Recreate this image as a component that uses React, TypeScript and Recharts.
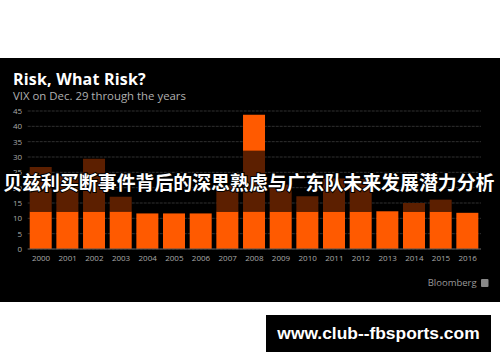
import { BarChart, Bar, XAxis, YAxis, CartesianGrid } from "recharts";

// VIX on Dec. 29, split into the three coloured pieces of each stacked bar
const years = [
  "2000", "2001", "2002", "2003", "2004", "2005", "2006", "2007", "2008",
  "2009", "2010", "2011", "2012", "2013", "2014", "2015", "2016",
];
const lowPart = [
  12.2, 12.2, 12.2, 12.2, 11.6, 11.6, 11.6, 12.2, 12.2,
  12.2, 12.2, 12.2, 12.2, 12.3, 12.2, 12.2, 11.8,
];
const midPart = [
  14.5, 11.6, 17.2, 4.8, 0, 0, 0, 8.5, 19.8,
  8.8, 5.0, 10.8, 10.5, 0, 2.8, 3.9, 0,
];
const topPart = [0, 0, 0, 0, 0, 0, 0, 0, 11.8, 0, 0, 0, 0, 0, 0, 0, 0];
const yTicks = [0, 5, 10, 15, 20, 25, 30, 35, 40, 45];

const data = years.map((year, i) => ({
  year,
  low: lowPart[i],
  mid: midPart[i],
  top: topPart[i],
}));

const ORANGE = "#ff5a00";
const BROWN = "#5c1f00";
const font = "'Open Sans', sans-serif";

export default function App() {
  return (
    <div
      style={{
        position: "absolute",
        left: 0,
        top: 0,
        width: 500,
        height: 362,
        background: "#fff",
        overflow: "hidden",
      }}
    >
      <div
        style={{
          position: "absolute",
          left: 0,
          top: 58,
          width: 500,
          height: 244,
          background: "#000",
        }}
      />

      <div style={{ position: "absolute", left: 0, top: 0 }}>
        <BarChart
          width={500}
          height={362}
          data={data}
          margin={{ top: 111, right: 19, left: 0, bottom: 83 }}
          barSize={22}
        >
          <CartesianGrid
            vertical={false}
            stroke="#303030"
            strokeDasharray="3 1"
          />
          <XAxis
            dataKey="year"
            height={30}
            tickLine={false}
            tickSize={0}
            tickMargin={6}
            axisLine={{ stroke: "#555" }}
            tick={{ fill: "#aaa", fontSize: 8, fontFamily: font }}
            interval={0}
          />
          <YAxis
            domain={[0, 45]}
            ticks={yTicks}
            width={27.7}
            tickLine={false}
            tickSize={0}
            tickMargin={5.5}
            axisLine={false}
            tick={{ fill: "#aaa", fontSize: 8, fontFamily: font }}
            interval={0}
          />
          <Bar dataKey="low" stackId="a" fill={ORANGE} isAnimationActive={false} />
          <Bar dataKey="mid" stackId="a" fill={BROWN} isAnimationActive={false} />
          <Bar dataKey="top" stackId="a" fill={ORANGE} isAnimationActive={false} />
        </BarChart>
      </div>

      <svg
        width={500}
        height={362}
        style={{ position: "absolute", left: 0, top: 0, pointerEvents: "none" }}
      >
        <text
          x={13}
          y={85}
          fill="#fff"
          fontFamily={font}
          fontWeight="bold"
          fontSize={16}
          letterSpacing={0.2}
        >
          Risk, What Risk?
        </text>
        <text x={13} y={99.5} fill="#b0b0b0" fontFamily={font} fontSize={11.4}>
          VIX on Dec. 29 through the years
        </text>
        <text x={427.7} y={286} fill="#999" fontFamily={font} fontSize={9.5}>
          Bloomberg
        </text>
        <rect x={481} y={279} width={7.5} height={8} rx={1} fill="#888" />

        <text
          x={3.3}
          y={190}
          fill="#fff"
          stroke="#000"
          strokeWidth={2}
          paintOrder="stroke"
          fontFamily="'Noto Sans CJK SC', sans-serif"
          fontWeight="bold"
          fontSize={18.9}
        >
          贝兹利买断事件背后的深思熟虑与广东队未来发展潜力分析
        </text>
      </svg>

      <div
        style={{
          position: "absolute",
          left: 266,
          top: 315,
          width: 225,
          height: 37,
          background: "#000",
          color: "#fff",
          display: "flex",
          alignItems: "center",
          justifyContent: "center",
          fontFamily: "'Liberation Sans', Arial, sans-serif",
          fontWeight: "bold",
          fontSize: 17.4,
        }}
      >
        www.club--fbsports.com
      </div>
    </div>
  );
}
